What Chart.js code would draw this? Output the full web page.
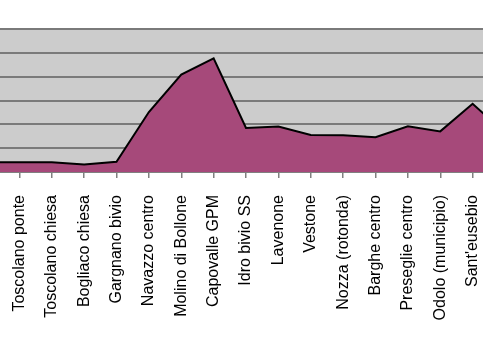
<!DOCTYPE html>
<html>
<head>
<meta charset="utf-8">
<script src="https://cdn.jsdelivr.net/npm/chart.js@4/dist/chart.umd.min.js"></script>
<style>
  html, body { margin: 0; padding: 0; background: #ffffff; overflow: hidden; }
  #viewport { position: relative; width: 483px; height: 355px; overflow: hidden; background: #ffffff; }
  #wrap { position: absolute; left: -43.4px; top: 0; width: 578px; height: 355px; }
</style>
</head>
<body>
<div id="viewport"><div id="wrap"><canvas id="c"></canvas></div></div>
<script>
// Stops along the route (first and last entries are cut off by the picture's edges)
const categories = [
  "",
  "Toscolano ponte",
  "Toscolano chiesa",
  "Bogliaco chiesa",
  "Gargnano bivio",
  "Navazzo centro",
  "Molino di Bollone",
  "Capovalle GPM",
  "Idro bivio SS",
  "Lavenone",
  "Vestone",
  "Nozza (rotonda)",
  "Barghe centro",
  "Preseglie centro",
  "Odolo (municipio)",
  "Sant'eusebio",
  ""
];
// Altitude (m)
const altitude = [81, 81, 81, 64, 86, 503, 817, 953, 369, 381, 311, 309, 292, 384, 341, 572, 327];
const yMin = 0;
const yMax = 1200;
const yStep = 200;

const plotBg = {
  id: 'plotBg',
  beforeDraw(chart) {
    const a = chart.chartArea, ctx = chart.ctx;
    ctx.save();
    ctx.fillStyle = '#cccccc';
    ctx.fillRect(a.left, a.top, a.right - a.left, a.bottom - a.top);
    ctx.restore();
  }
};

new Chart(document.getElementById('c'), {
  type: 'line',
  data: {
    labels: categories,
    datasets: [{
      data: altitude,
      fill: 'origin',
      backgroundColor: '#a6497a',
      borderColor: '#000000',
      borderWidth: 2,
      pointRadius: 0,
      tension: 0
    }]
  },
  options: {
    responsive: true,
    maintainAspectRatio: false,
    animation: false,
    layout: { padding: { top: 29, right: 30, left: 0, bottom: 0 } },
    plugins: { legend: { display: false }, tooltip: { enabled: false } },
    scales: {
      x: {
        offset: false,
        grid: { drawOnChartArea: false, drawTicks: true, tickLength: 6, color: '#808080', lineWidth: 1.5 },
        border: { display: true, color: '#808080', width: 2 },
        ticks: {
          autoSkip: false, minRotation: 90, maxRotation: 90, padding: 17,
          color: '#000000',
          font: { family: "'Liberation Sans', Arial, sans-serif", size: 16 }
        },
        afterFit(s) { s.height = 183; s.paddingLeft = 0; s.paddingRight = 0; }
      },
      y: {
        min: yMin, max: yMax,
        ticks: { stepSize: yStep, display: false },
        grid: { color: '#7a7a7a', lineWidth: 2, drawTicks: false },
        border: { display: false },
        afterFit(s) { s.width = 30; }
      }
    }
  },
  plugins: [plotBg]
});
</script>
</body>
</html>
